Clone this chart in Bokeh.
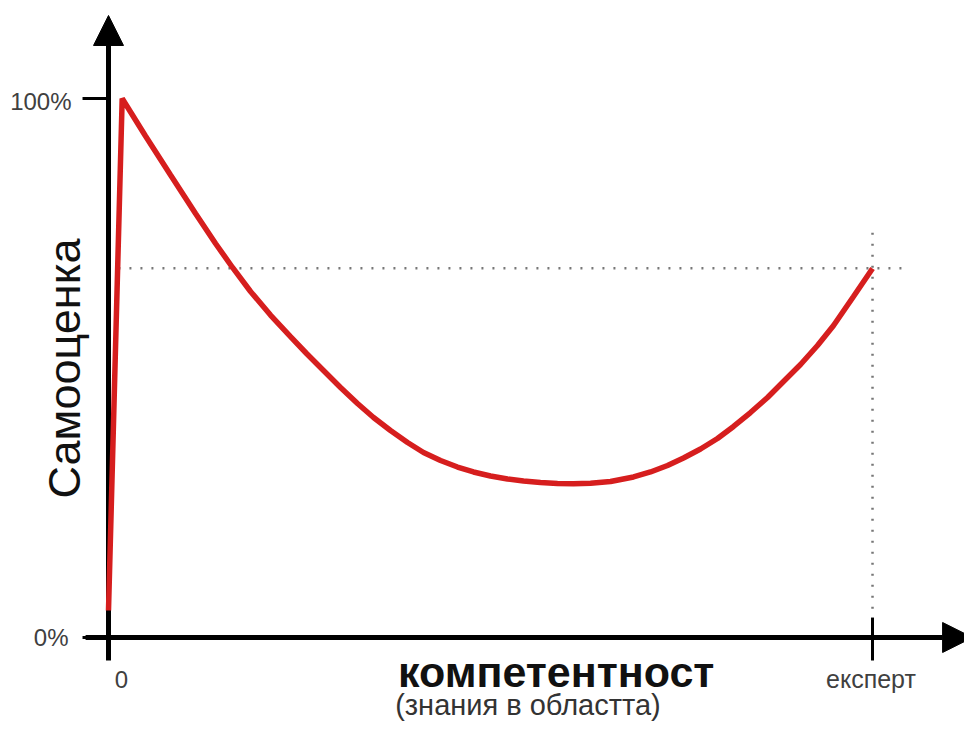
from bokeh.plotting import figure
from bokeh.models import Range1d, Arrow, NormalHead
from bokeh.core.properties import value
from bokeh.embed import file_html
from bokeh.resources import INLINE

# competence (0 .. expert=100) vs self-assessment (%)
competence = [0, 1.79, 4.84, 8.12, 11.39, 14.01, 16.23, 18.59, 21.20, 23.82, 25.92,
              28.14, 30.37, 32.59, 34.69, 36.91, 39.14, 41.23, 43.46, 45.68, 47.77,
              50.0, 52.23, 54.32, 56.54, 58.77, 60.86, 63.09, 65.71, 68.72, 70.94,
              73.17, 75.26, 77.49, 79.71, 81.81, 84.03, 86.26, 88.35, 90.58, 92.8,
              94.9, 97.51, 100]
self_esteem = [5.0, 100, 93.04, 85.81, 78.66, 73.10, 68.65, 64.19, 59.83, 55.84, 52.69,
               49.54, 46.38, 43.41, 40.82, 38.40, 36.18, 34.32, 32.84, 31.63, 30.71,
               29.96, 29.41, 29.04, 28.76, 28.57, 28.51, 28.63, 28.94, 29.78, 30.71,
               31.91, 33.30, 34.97, 36.92, 39.15, 41.74, 44.53, 47.50, 50.65, 54.17,
               57.88, 63.27, 68.46]

y_ticks = [0, 100]
y_tick_labels = ["0%", "100%"]
x_ticks = [0, 100]
x_tick_labels = ["0", "експерт"]
expert_level = 68.5

x_title = "компетентност"
x_subtitle = "(знания в областта)"
y_title = "Самооценка"

W, H = 964, 729
p = figure(width=W, height=H, output_backend="svg", toolbar_location=None,
           x_range=Range1d(-14.136, 112.04), y_range=Range1d(-17.07, 118.18),
           x_axis_location=None, y_axis_location=None, min_border=0)
p.grid.visible = False
p.outline_line_color = None
p.background_fill_color = "white"

FONT = value("Liberation Sans")

# axes with arrows (under the curve)
p.add_layout(Arrow(end=NormalHead(size=30, fill_color="black", line_color="black"),
                   x_start=0, y_start=-4.27, x_end=0, y_end=115.4,
                   line_width=5, line_color="black", level="underlay"))
p.add_layout(Arrow(end=NormalHead(size=30, fill_color="black", line_color="black"),
                   x_start=-3.0, y_start=0, x_end=113.1, y_end=0,
                   line_width=5, line_color="black", level="underlay"))

# dotted guide lines at expert level
p.line([1.3, 104.7], [expert_level, expert_level], line_color="#777777",
       line_width=2.5, line_dash="2 9")
p.line([x_ticks[1], x_ticks[1]], [75.1, 3.7], line_color="#777777",
       line_width=2.5, line_dash="2 9")

# ticks
for yt in y_ticks:
    p.line([-3.4, 0], [yt, yt], line_color="black", line_width=3)
p.line([x_ticks[1], x_ticks[1]], [3.7, -4.27], line_color="black", line_width=3)

# curve
p.line(competence, self_esteem, line_color="#d61e1e", line_width=5.5)

# tick labels
p.text(x=[-5.24, -4.84], y=[-0.07, 99.37], text=y_tick_labels, text_font=FONT,
       text_font_size="24px", text_color="#404040", text_align="right",
       text_baseline="alphabetic")
p.text(x=[x_ticks[0] + 1.70], y=[-7.86], text=[x_tick_labels[0]],
       text_font=FONT, text_font_size="24px", text_color="#404040",
       text_align="center", text_baseline="alphabetic")
p.text(x=[x_ticks[1] - 0.2], y=[-7.61], text=[x_tick_labels[1]],
       text_font=FONT, text_font_size="25px", text_color="#404040",
       text_align="center", text_baseline="alphabetic")

# titles
p.text(x=[58.6], y=[-6.4], text=[x_title], text_font=FONT, text_font_size="43px",
       text_font_style="bold", text_color="#111111", text_align="center",
       text_baseline="alphabetic")
p.text(x=[54.9], y=[-12.6], text=[x_subtitle], text_font=FONT, text_font_size="29px",
       text_color="#333333", text_align="center", text_baseline="middle")
p.text(x=[-5.78], y=[49.9], text=[y_title], text_font=FONT, text_font_size="45px",
       text_color="#111111", text_align="center", text_baseline="alphabetic",
       angle=1.5708)

open("out.html", "w").write(file_html(p, INLINE))
